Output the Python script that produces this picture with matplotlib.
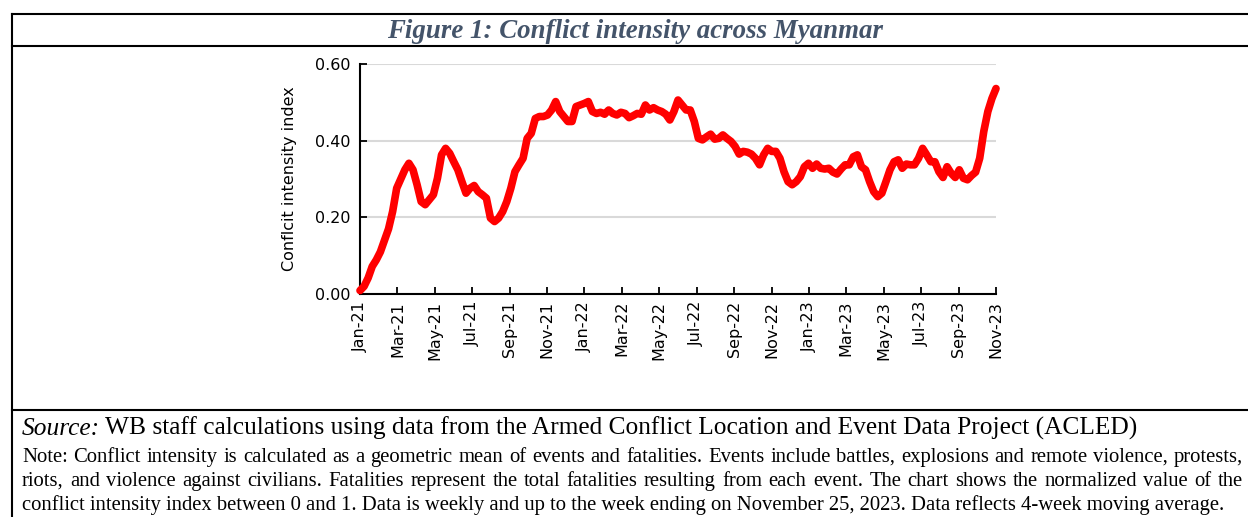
import matplotlib.pyplot as plt
import numpy as np

# Indice de intensidad (semanal, media movil de 4 semanas)
intensity = [
    0.009, 0.02, 0.042, 0.072, 0.089, 0.11, 0.14, 0.17, 0.215, 0.276,
    0.30, 0.324, 0.341, 0.324, 0.285, 0.241, 0.233, 0.246, 0.259, 0.302,
    0.363, 0.38, 0.367, 0.345, 0.324, 0.293, 0.263, 0.276, 0.283, 0.267,
    0.259, 0.25, 0.198, 0.189, 0.198, 0.215, 0.241, 0.276, 0.319, 0.337,
    0.354, 0.406, 0.419, 0.458, 0.463, 0.463, 0.467, 0.48, 0.502, 0.476,
    0.463, 0.45, 0.45, 0.489, 0.493, 0.497, 0.502,
    0.476, 0.471, 0.474, 0.469, 0.48, 0.471, 0.467, 0.474, 0.471, 0.46,
    0.465, 0.471, 0.469, 0.493, 0.48, 0.486, 0.48, 0.476, 0.469, 0.454,
    0.476, 0.506, 0.493, 0.48,
    0.48, 0.45, 0.406, 0.402, 0.41, 0.417, 0.404, 0.406, 0.415, 0.406,
    0.398, 0.385, 0.365, 0.372, 0.37, 0.365, 0.354, 0.337, 0.363, 0.38,
    0.372, 0.372, 0.354, 0.319, 0.293, 0.285, 0.293,
    0.306, 0.332, 0.341, 0.328, 0.339, 0.328, 0.326, 0.328, 0.318, 0.313,
    0.326, 0.337, 0.337, 0.358, 0.363, 0.332, 0.324, 0.293, 0.267, 0.254,
    0.263, 0.293, 0.324, 0.345, 0.35, 0.328, 0.339, 0.337,
    0.337, 0.354, 0.38, 0.363, 0.345, 0.345, 0.319, 0.304, 0.332, 0.315,
    0.304, 0.324, 0.302, 0.298, 0.309, 0.318, 0.354, 0.424, 0.476, 0.51,
    0.536,
]
tick_labels = ['Jan-21', 'Mar-21', 'May-21', 'Jul-21', 'Sep-21', 'Nov-21',
               'Jan-22', 'Mar-22', 'May-22', 'Jul-22', 'Sep-22', 'Nov-22',
               'Jan-23', 'Mar-23', 'May-23', 'Jul-23', 'Sep-23', 'Nov-23']
y_ticks = [0.0, 0.2, 0.4, 0.6]

title = 'Figure 1: Conflict intensity across Myanmar'
source = 'WB staff calculations using data from the Armed Conflict Location and Event Data Project (ACLED)'
note_lines = [
    'Note: Conflict intensity is calculated as a geometric mean of events and fatalities. Events include battles, explosions and remote violence, protests,',
    'riots, and violence against civilians. Fatalities represent the total fatalities resulting from each event. The chart shows the normalized value of the',
    'conflict intensity index between 0 and 1. Data is weekly and up to the week ending on November 25, 2023. Data reflects 4-week moving average.',
]

W, H = 1248, 517
fig = plt.figure(figsize=(W / 100, H / 100), dpi=100)
r = fig.canvas.get_renderer()

# ramka i linie oddzielajace
fig.add_artist(plt.Line2D([12 / W, 1.0], [1 - 14 / H] * 2, color='black', lw=1.5))
fig.add_artist(plt.Line2D([12 / W] * 2, [0, 1 - 14 / H], color='black', lw=1.5))
fig.add_artist(plt.Line2D([12 / W, 1.0], [1 - 46 / H] * 2, color='black', lw=1.5))
fig.add_artist(plt.Line2D([12 / W, 1.0], [1 - 410 / H] * 2, color='black', lw=1.5))

fig.text(635 / W, 1 - 31 / H, title, ha='center', va='center',
         fontfamily='Liberation Serif', fontweight='bold', fontstyle='italic',
         fontsize=19.4, color='#44546A')

ax = fig.add_axes([360 / W, 1 - 294 / H, 636 / W, 230 / H])
x = np.arange(len(intensity))
ax.plot(x, intensity, color='#FF0000', lw=5.5, solid_capstyle='round',
        solid_joinstyle='round', clip_on=False, zorder=3)

ax.set_xlim(0, len(intensity) - 1)
ax.set_ylim(0, 0.6)
ax.set_yticks(y_ticks)
ax.set_yticklabels([f'{v:.2f}' for v in y_ticks], fontsize=11.5)
ax.set_xticks(np.linspace(0, len(intensity) - 1, len(tick_labels)))
ax.set_xticklabels(tick_labels, rotation=90, fontsize=11.5)
ax.tick_params(direction='in', length=5, width=1.3)
ax.tick_params(axis='x', pad=5)
ax.tick_params(axis='y', pad=7)
ax.grid(axis='y', color='#D9D9D9', lw=1.5)
ax.set_axisbelow(True)
for s in ['top', 'right']:
    ax.spines[s].set_visible(False)
for s in ['left', 'bottom']:
    ax.spines[s].set_linewidth(1.5)
ax.set_ylabel('Conflcit intensity index', fontsize=11.5, labelpad=13)

# zrodlo i notatka
src = fig.text(22 / W, 1 - 435 / H, 'Source:', ha='left', va='baseline',
               fontfamily='Liberation Serif', fontstyle='italic', fontsize=18.3)
x_end = src.get_window_extent(r).x1
fig.text((x_end + 5) / W, 1 - 435 / H, source, ha='left', va='baseline',
         fontfamily='Liberation Serif', fontsize=18.3)

note_font = dict(fontfamily='Liberation Serif', fontsize=14.9)
left, right = 22, 1243
for i, line in enumerate(note_lines):
    y = 1 - (462 + 24 * i) / H
    if i == len(note_lines) - 1:
        fig.text(left / W, y, line, ha='left', va='baseline', **note_font)
        continue
    # wyjustowanie wiersza
    words = line.split(' ')
    texts = [fig.text(0, y, w, ha='left', va='baseline', **note_font) for w in words]
    widths = [t.get_window_extent(r).width for t in texts]
    gap = (right - left - sum(widths)) / (len(words) - 1)
    pos = left
    for t, w in zip(texts, widths):
        t.set_x(pos / W)
        pos += w + gap

fig.savefig('out.png', dpi=100)
